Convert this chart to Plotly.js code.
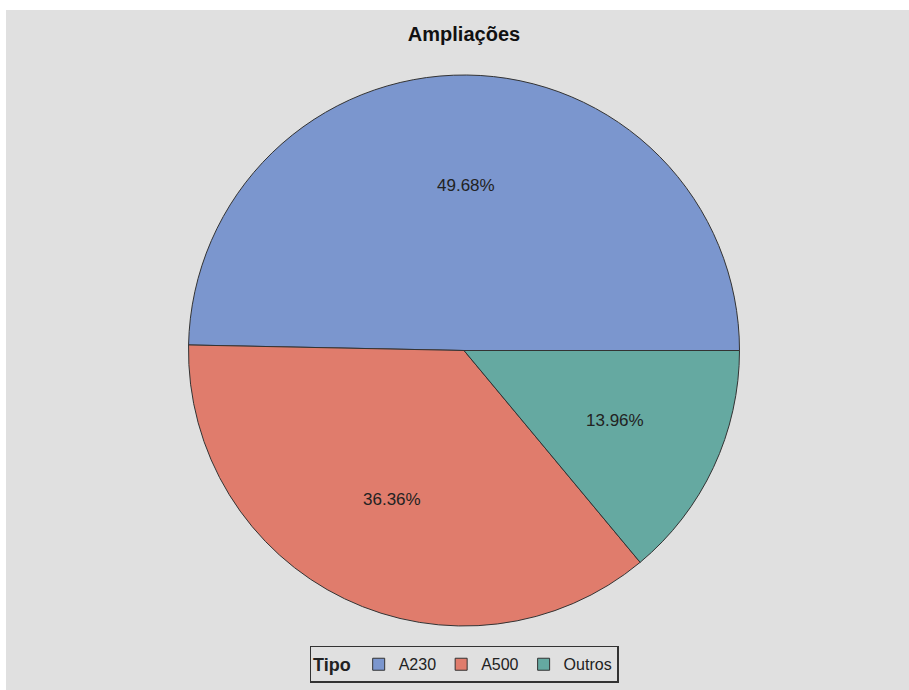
<!DOCTYPE html>
<html><head><meta charset="utf-8">
<script src="https://cdn.plot.ly/plotly-3.0.1.min.js"></script>
<style>html,body{margin:0;padding:0;background:#fff;}#chart{position:absolute;left:6px;top:10px;width:903px;height:680px;}</style>
</head><body><div id="chart"></div>
<script>
const categories = ['A230', 'A500', 'Outros'];
const values = [49.68, 36.36, 13.96];
const colors = ['#7B96CE', '#E07C6C', '#65A9A1'];
const chartTitle = 'Ampliações';
const legendTitle = 'Tipo';

// layout geometry
const W = 903, H = 680;
const M = {l: 20, r: 7, t: 65, b: 58};
const plotW = W - M.l - M.r, plotH = H - M.t - M.b;
const radiusPx = Math.min(plotW, plotH) / 2;
const labelRadiusFrac = 0.6;

const total = values.reduce((a, b) => a + b, 0);
// first slice starts at 3 o'clock, going counterclockwise
const rotation = 90 - 360 * values[0] / total;

// percentage label positions along slice bisectors
const annotations = [];
let cum = 0;
values.forEach((v, i) => {
  const mid = (cum + v / 2) / total * 2 * Math.PI; // radians ccw from 3 o'clock
  cum += v;
  const pct = (100 * v / total).toFixed(2) + '%';
  annotations.push({
    xref: 'paper', yref: 'paper',
    x: 0.5 + labelRadiusFrac * radiusPx * Math.cos(mid) / plotW,
    y: 0.5 + labelRadiusFrac * radiusPx * Math.sin(mid) / plotH,
    text: pct, showarrow: false, xanchor: 'center', yanchor: 'middle',
    font: {family: 'Liberation Sans, Arial, sans-serif', size: 17, color: '#222222'}
  });
});

const trace = {
  type: 'pie',
  labels: categories,
  values: values,
  sort: false,
  direction: 'counterclockwise',
  rotation: rotation,
  marker: {colors: colors, line: {color: '#333333', width: 1}},
  textinfo: 'none',
  hoverinfo: 'label+percent'
};

const layout = {
  width: W, height: H,
  paper_bgcolor: '#E0E0E0',
  plot_bgcolor: '#E0E0E0',
  margin: M,
  title: {text: '<b>' + chartTitle + '</b>', x: 0.5, xref: 'paper', y: 0.965, yanchor: 'middle',
          font: {family: 'Liberation Sans, Arial, sans-serif', size: 20, color: '#111111'}},
  showlegend: true,
  annotations: annotations,
  legend: {
    orientation: 'h', x: 0.5, xanchor: 'center', y: -0.036, yanchor: 'top',
    title: {text: '<b>' + legendTitle + '</b>', side: 'left', font: {size: 18}},
    bgcolor: 'rgba(0,0,0,0)', bordercolor: '#333333', borderwidth: 1.5,
    font: {family: 'Liberation Sans, Arial, sans-serif', size: 16, color: '#222222'},
    itemwidth: 30,
    traceorder: 'normal'
  }
};

Plotly.newPlot('chart', [trace], layout, {displayModeBar: false, staticPlot: true});
</script></body></html>
